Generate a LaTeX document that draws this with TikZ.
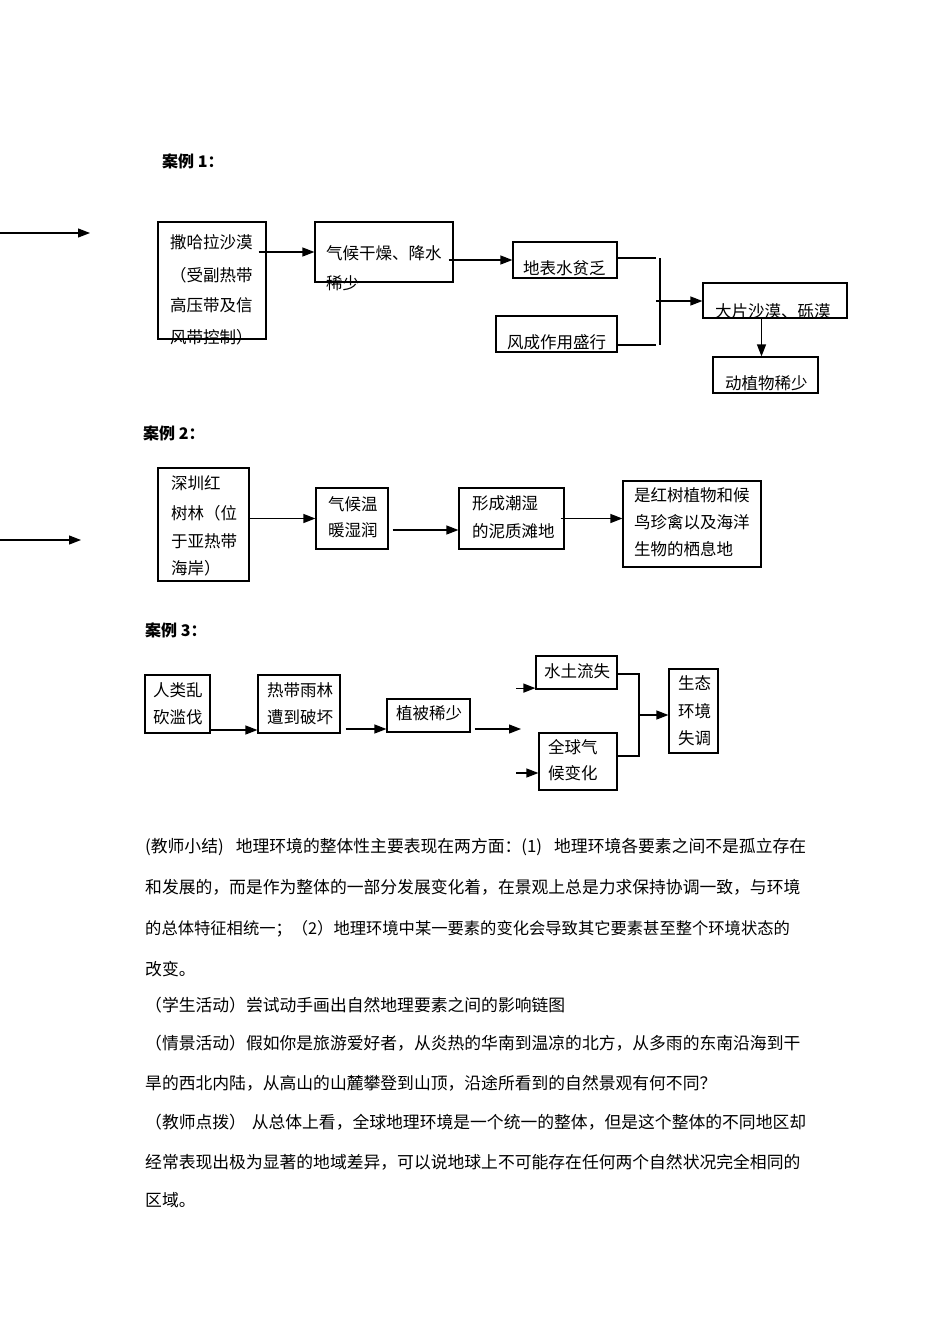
\documentclass[tikz,border=0pt]{standalone}
\usepackage{fontspec}
\setmainfont{Noto Sans CJK SC}
\usetikzlibrary{arrows.meta,calc}
\XeTeXlinebreaklocale "zh"
\XeTeXlinebreakskip=0pt plus 2pt minus 0.8pt
\newcommand\bodyline[1]{\hbox to 661pt{#1}}
\tikzset{
  box/.style={draw, line width=1.2pt, inner sep=0pt},
  bt/.style={anchor=base west, inner sep=0pt, font=\fontsize{16.5}{16.5}\selectfont},
  tt/.style={anchor=base west, inner sep=0pt, font=\fontsize{16}{16}\selectfont\bfseries},
  pt/.style={anchor=base west, inner sep=0pt, font=\fontsize{16.8}{16.8}\selectfont},
  ln/.style={line width=1.2pt},
  arr/.style={line width=1.2pt, -{Triangle[length=12pt,width=9pt]}}
}
\begin{document}
\begin{tikzpicture}[x=1pt,y=-1pt]
\useasboundingbox (0,0) rectangle (950,1344);

% ---------- Case 1 ----------
\node[tt] (t1) at (162,167.5) {案例 1：};
\coordinate (l1s) at (0,233);
\coordinate (l1e) at (90,233);
\draw[arr] (l1s) -- (l1e);

\node[box, minimum width=108pt, minimum height=117pt] (a1) at (212,280.5) {};
\node[box, minimum width=138pt, minimum height=60pt] (a2) at (384,252) {};
\node[box, minimum width=104pt, minimum height=36pt] (a3) at (565,260) {};
\node[box, minimum width=121pt, minimum height=36pt] (a4) at (556.5,334) {};
\node[box, minimum width=144pt, minimum height=35pt] (a5) at (775,300.5) {};
\node[box, minimum width=105pt, minimum height=36pt] (a6) at (765.5,375) {};

\node[bt] (a1l1) at (170,248) {撒哈拉沙漠};
\node[bt] (a1l2) at (170,281) {（受副热带};
\node[bt] (a1l3) at (170,311) {高压带及信};
\node[bt] (a1l4) at (170,343) {风带控制）};
\node[bt] (a2l1) at (326,259) {气候干燥、降水};
\node[bt] (a2l2) at (326,289) {稀少};
\node[bt] (a3l1) at (523,274) {地表水贫乏};
\node[bt] (a4l1) at (507,348) {风成作用盛行};
\node[bt] (a5l1) at (715,317) {大片沙漠、砾漠};
\node[bt] (a6l1) at (725,389) {动植物稀少};

\draw[arr] ($(a1.east |- a2.west)+(-8,0)$) -- (a2.west);
\draw[arr] ($(a2.east |- a3.west)+(-5,0)$) -- (a3.west);
\coordinate (jt) at (660,258);
\coordinate (jb) at (660,345);
\coordinate (jm) at (656,301);
\draw[ln] ($(a3.east)+(0,-2)$) -- +(38,0);
\draw[ln] ($(a4.east)+(0,11)$) -- +(38,0);
\draw[ln] (jt) -- (jb);
\draw[arr] (jm) -- (jm -| a5.west);
\draw[arr] ($(a6.north |- a5.south)+(-4,0)$) -- ($(a6.north)+(-4,0)$);

% ---------- Case 2 ----------
\node[tt] (t2) at (143,439) {案例 2：};
\coordinate (l2s) at (0,540);
\coordinate (l2e) at (81,540);
\draw[arr] (l2s) -- (l2e);

\node[box, minimum width=91pt, minimum height=113pt] (b1) at (203.5,524.5) {};
\node[box, minimum width=72pt, minimum height=61pt] (b2) at (352,518.5) {};
\node[box, minimum width=105pt, minimum height=61pt] (b3) at (511.5,518.5) {};
\node[box, minimum width=138pt, minimum height=86pt] (b4) at (692,524) {};

\node[bt] (b1l1) at (171,489) {深圳红};
\node[bt] (b1l2) at (171,519) {树林（位};
\node[bt] (b1l3) at (171,547) {于亚热带};
\node[bt] (b1l4) at (171,574) {海岸）};
\node[bt] (b2l1) at (328,510) {气候温};
\node[bt] (b2l2) at (328,536) {暖湿润};
\node[bt] (b3l1) at (472,509) {形成潮湿};
\node[bt] (b3l2) at (472,537) {的泥质滩地};
\node[bt] (b4l1) at (634,501) {是红树植物和候};
\node[bt] (b4l2) at (634,528) {鸟珍禽以及海洋};
\node[bt] (b4l3) at (634,555) {生物的栖息地};

\draw[arr] (b1.east |- b2.west) -- (b2.west);
\draw[arr] ($(b2.east)+(4,11.5)$) -- ($(b3.west)+(0,11.5)$);
\draw[arr] ($(b3.east)+(-4,0)$) -- (b3.east -| b4.west);

% ---------- Case 3 ----------
\node[tt] (t3) at (145,636) {案例 3：};

\node[box, minimum width=65pt, minimum height=58pt] (c1) at (177.5,704) {};
\node[box, minimum width=82pt, minimum height=58pt] (c2) at (299,704) {};
\node[box, minimum width=83pt, minimum height=33pt] (c3) at (428.5,715.5) {};
\node[box, minimum width=81pt, minimum height=33pt] (c4) at (576.5,672.5) {};
\node[box, minimum width=78pt, minimum height=57pt] (c5) at (578,761.5) {};
\node[box, minimum width=49pt, minimum height=84pt] (c6) at (693.5,711) {};

\node[bt] (c1l1) at (153,696) {人类乱};
\node[bt] (c1l2) at (153,723) {砍滥伐};
\node[bt] (c2l1) at (267,696) {热带雨林};
\node[bt] (c2l2) at (267,723) {遭到破坏};
\node[bt] (c3l1) at (396,719) {植被稀少};
\node[bt] (c4l1) at (544,677) {水土流失};
\node[bt] (c5l1) at (548,753) {全球气};
\node[bt] (c5l2) at (548,779) {候变化};
\node[bt] (c6l1) at (678,689) {生态};
\node[bt] (c6l2) at (678,717) {环境};
\node[bt] (c6l3) at (678,744) {失调};

\draw[arr] ($(c1.east)+(0,26)$) -- ($(c2.west)+(0,26)$);
\draw[arr] ($(c2.east)+(5,13.5)+(0,11.5)$) -- ($(c3.west)+(0,13.5)$);
\coordinate (c3e) at (521,729);
\draw[arr] ($(c3.east)+(4,13.5)$) -- (c3e);
\draw[arr] ($(c4.south west)+(-19,-1.5)$) -- ($(c4.south west)+(0,-1.5)$);
\draw[arr] ($(c5.west)+(-22,11.5)$) -- ($(c5.west)+(0,11.5)$);
\coordinate (k) at (639,715);
\draw[ln] ($(c4.east)+(0,1.5)$) -| ($(k |- c5.east)+(0,-5.5)$) -- ($(c5.east)+(0,-5.5)$);
\draw[arr] (k) -- (k -| c6.west);

% ---------- Text ----------
\node[pt] (p1) at (145,852) {\bodyline{(教师小结) 地理环境的整体性主要表现在两方面：(1) 地理环境各要素之间不是孤立存在}};
\node[pt] (p2) at (145,893) {\bodyline{和发展的，而是作为整体的一部分发展变化着，在景观上总是力求保持协调一致，与环境}};
\node[pt, font=\fontsize{16.3}{16.3}\selectfont] (p3) at (145,934) {\bodyline{的总体特征相统一；（2）地理环境中某一要素的变化会导致其它要素甚至整个环境状态的}};
\node[pt] (p4) at (145,975) {改变。};
\node[pt] (p5) at (145,1011) {（学生活动）尝试动手画出自然地理要素之间的影响链图};
\node[pt] (p6) at (145,1049) {\bodyline{（情景活动）假如你是旅游爱好者，从炎热的华南到温凉的北方，从多雨的东南沿海到干}};
\node[pt] (p7) at (145,1089) {旱的西北内陆，从高山的山麓攀登到山顶，沿途所看到的自然景观有何不同？};
\node[pt] (p8) at (145,1128) {\bodyline{（教师点拨） 从总体上看，全球地理环境是一个统一的整体，但是这个整体的不同地区却}};
\node[pt] (p9) at (145,1168) {\bodyline{经常表现出极为显著的地域差异，可以说地球上不可能存在任何两个自然状况完全相同的}};
\node[pt] (p10) at (145,1206) {区域。};
\end{tikzpicture}
\end{document}
